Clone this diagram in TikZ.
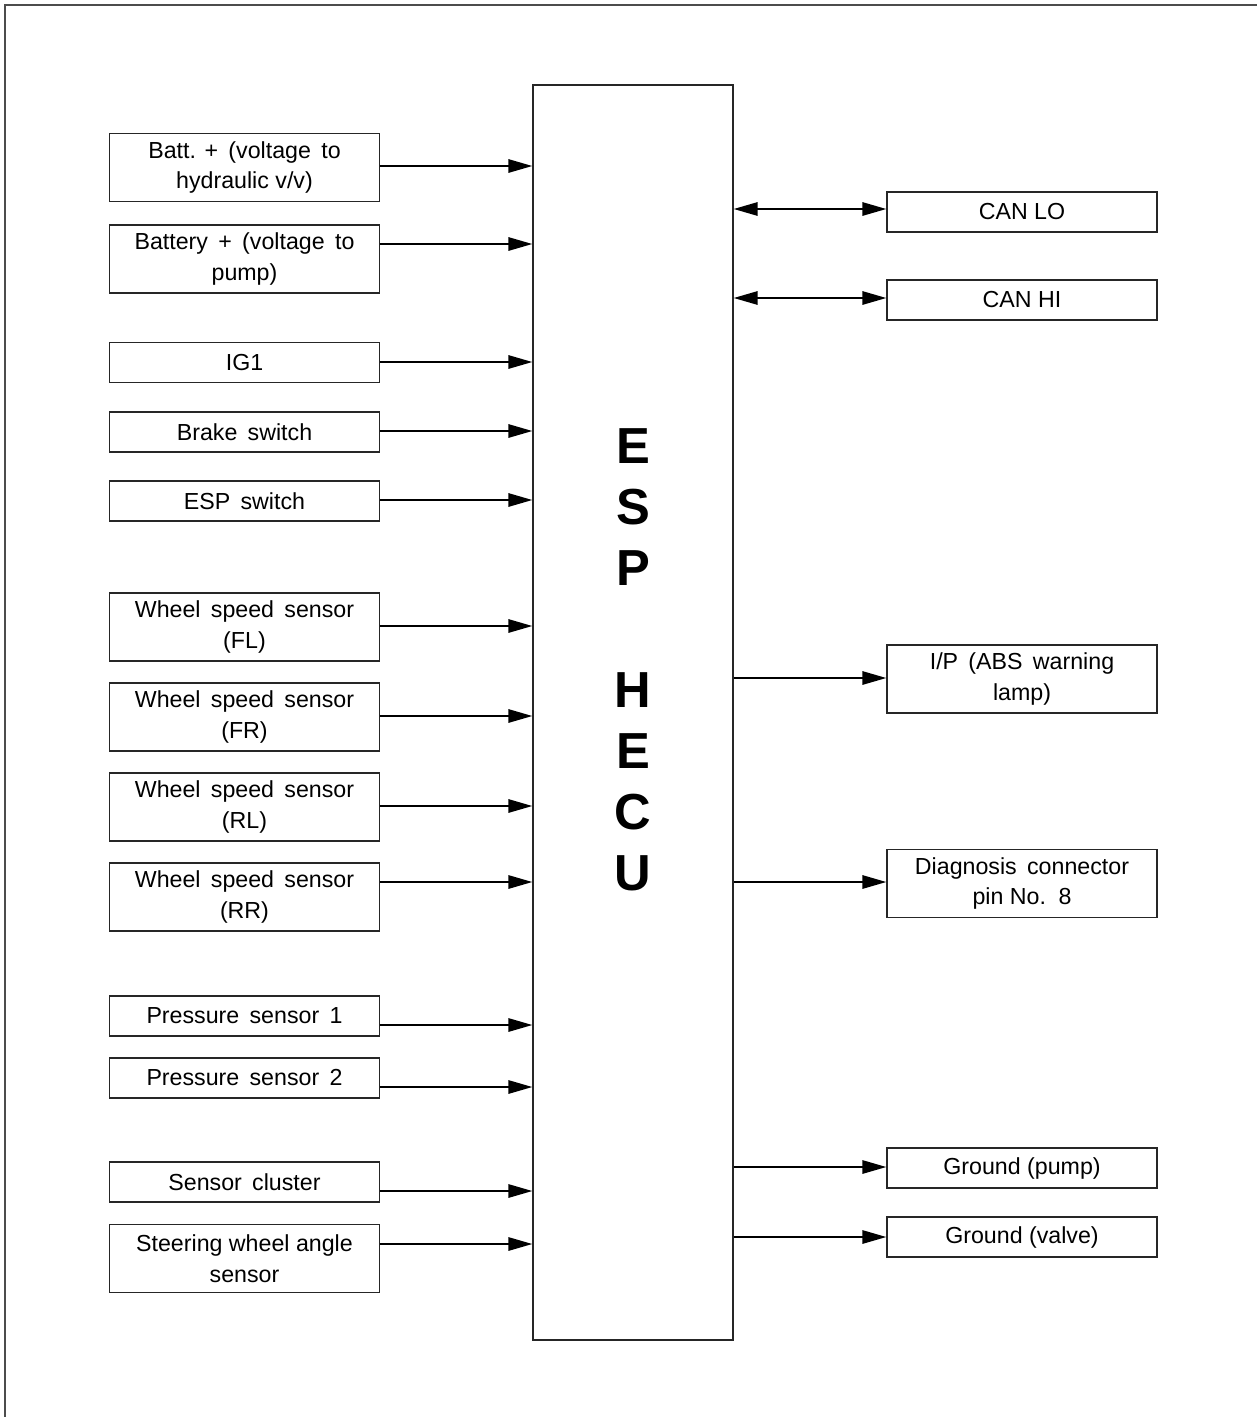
\documentclass[tikz,border=0pt]{standalone}
\usepackage{fontspec}
\setmainfont{Liberation Sans}
\usetikzlibrary{arrows.meta}
\begin{document}
\begin{tikzpicture}[x=0.75pt,y=-0.75pt,
  lbox/.style={draw=black!85, line width=1pt, minimum width=202.5pt, inner sep=0pt, align=center,
     font=\fontsize{17.4}{23.2}\selectfont},
  onel/.style={lbox, minimum height=30pt},
  twol/.style={lbox, minimum height=51pt},
  arr/.style={line width=1.5pt, -{Triangle[length=18pt,width=10pt]}},
  darr/.style={line width=1.5pt, {Triangle[length=18pt,width=10pt]}-{Triangle[length=18pt,width=10pt]}}]
\useasboundingbox (0,0) rectangle (1257,1417);
\draw[black!70, line width=1.5pt] (5,1417) -- (5,5) -- (1257,5);
\node[draw=black!85, line width=1pt, minimum width=150pt, minimum height=941.25pt, inner sep=0pt] (ecu) at (633,712.5) {};
\node[align=center, font=\bfseries\fontsize{38}{45.75}\selectfont] (ecut) at (633,660) {E\\S\\P\\[45.75pt]H\\E\\C\\U};
% left boxes
\node[twol] (b1) at (244.5,167.5) {Batt. + \,(voltage \,to\\hydraulic v/v)};
\node[twol] (b2) at (244.5,259) {Battery \,+ \,(voltage \,to\\pump)};
\node[onel] (b3) at (244.5,362.5) {IG1};
\node[onel] (b4) at (244.5,432) {Brake \,switch};
\node[onel] (b5) at (244.5,501) {ESP \,switch};
\node[twol] (b6) at (244.5,627) {Wheel \,speed \,sensor\\(FL)};
\node[twol] (b7) at (244.5,717) {Wheel \,speed \,sensor\\(FR)};
\node[twol] (b8) at (244.5,807) {Wheel \,speed \,sensor\\(RL)};
\node[twol] (b9) at (244.5,897) {Wheel \,speed \,sensor\\(RR)};
\node[onel] (b10) at (244.5,1016) {Pressure \,sensor \,1};
\node[onel] (b11) at (244.5,1078) {Pressure \,sensor \,2};
\node[onel] (b12) at (244.5,1182) {Sensor \,cluster};
\node[twol] (b13) at (244.5,1258.5) {Steering wheel angle\\sensor};
% right boxes
\node[onel] (r1) at (1022,212) {CAN LO};
\node[onel] (r2) at (1022,300) {CAN HI};
\node[twol] (r3) at (1022,679) {I/P \,(ABS \,warning\\lamp)};
\node[twol] (r4) at (1022,883.5) {Diagnosis \,connector\\pin No. \,8};
\node[onel] (r5) at (1022,1168) {Ground (pump)};
\node[onel] (r6) at (1022,1237) {Ground (valve)};
% left arrows
\foreach \b/\y in {b1/166,b2/244,b3/362,b4/431,b5/500,b6/626,b7/716,b8/806,b9/882,b10/1025,b11/1087,b12/1191,b13/1244}
  \draw[arr] (\b.east |- 0,\y) -- (ecu.west |- 0,\y);
% right arrows
\draw[darr] (ecu.east |- 0,209) -- (r1.west |- 0,209);
\draw[darr] (ecu.east |- 0,298) -- (r2.west |- 0,298);
\foreach \r/\y in {r3/678,r4/882,r5/1167,r6/1237}
  \draw[arr] (ecu.east |- 0,\y) -- (\r.west |- 0,\y);
\end{tikzpicture}
\end{document}
